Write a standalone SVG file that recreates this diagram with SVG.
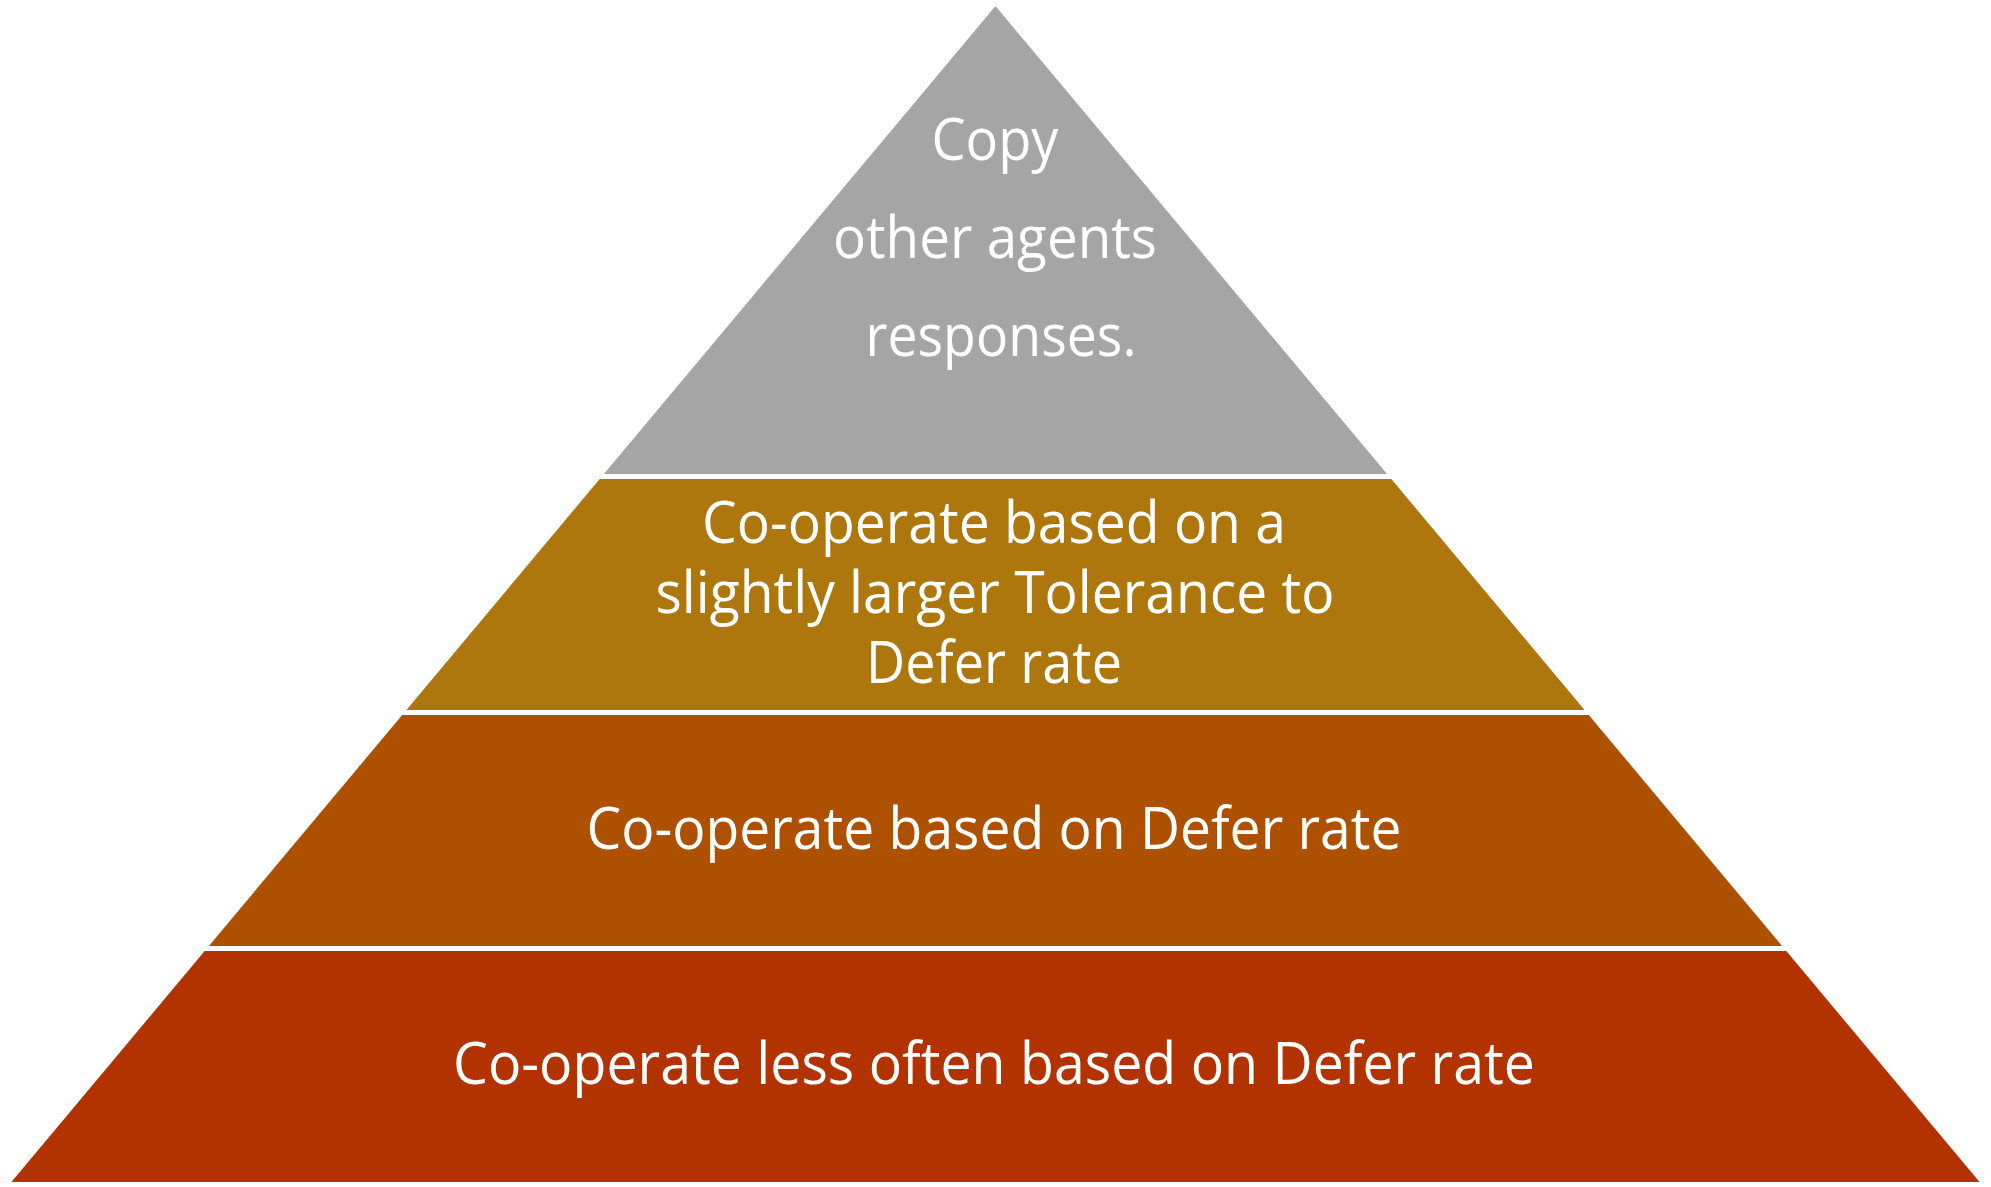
<svg xmlns="http://www.w3.org/2000/svg" width="1991" height="1187" viewBox="0 0 1991 1187">
  <style>
    .lbl { font-family: "Open Sans", "Noto Sans", "Liberation Sans", sans-serif; font-size: 58px; fill: #FFFFFF; text-anchor: middle; }
  </style>
  <rect x="0" y="0" width="1991" height="1187" fill="#FFFFFF"/>
  <g id="level-top">
    <polygon points="995.5,6 1387.1,474 603.9,474" fill="#A5A5A5"/>
    <text class="lbl" x="995" y="160" textLength="127" lengthAdjust="spacingAndGlyphs">Copy</text>
    <text class="lbl" x="995" y="258" textLength="324" lengthAdjust="spacingAndGlyphs">other agents</text>
    <text class="lbl" x="1001" y="356" textLength="271" lengthAdjust="spacingAndGlyphs">responses.</text>
  </g>
  <g id="level-2">
    <polygon points="599.7,479 1391.3,479 1584.6,710 406.4,710" fill="#AD770E"/>
    <text class="lbl" x="994" y="543" textLength="584" lengthAdjust="spacingAndGlyphs">Co-operate based on a</text>
    <text class="lbl" x="995" y="613" textLength="679" lengthAdjust="spacingAndGlyphs">slightly larger Tolerance to</text>
    <text class="lbl" x="994" y="683" textLength="256" lengthAdjust="spacingAndGlyphs">Defer rate</text>
  </g>
  <g id="level-3">
    <polygon points="402.2,715 1588.8,715 1782.1,946 208.9,946" fill="#AD5000"/>
    <text class="lbl" x="994" y="849" textLength="815" lengthAdjust="spacingAndGlyphs">Co-operate based on Defer rate</text>
  </g>
  <g id="level-bottom">
    <polygon points="204.7,951 1786.3,951 1979.6,1182 11.4,1182" fill="#B33300"/>
    <text class="lbl" x="994" y="1084" textLength="1082" lengthAdjust="spacingAndGlyphs">Co-operate less often based on Defer rate</text>
  </g>
  <g id="connectors"/>
</svg>
